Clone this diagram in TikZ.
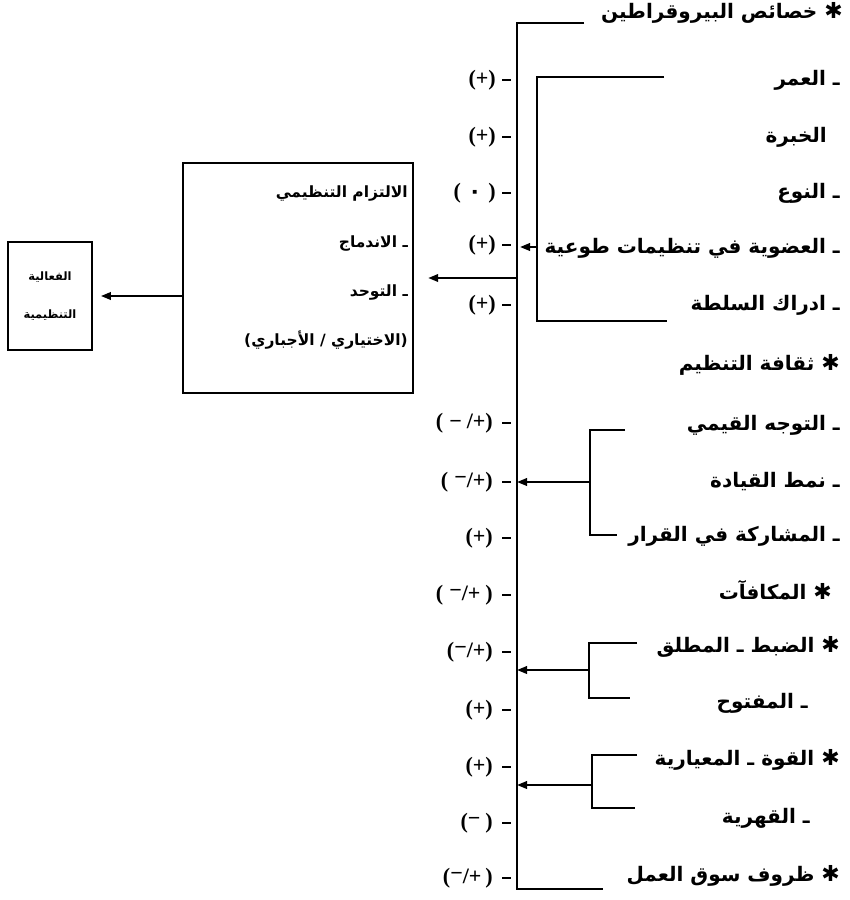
\documentclass[tikz,border=0pt]{standalone}
\usepackage{fontspec}
\setmainfont{Liberation Serif}
\newfontfamily\arabicfont[Script=Arabic]{DejaVu Sans}
\TeXXeTstate=1
\usetikzlibrary{arrows.meta}
\newcommand{\artext}[1]{\beginR #1\endR}
\newcommand{\hm}{\raisebox{3pt}{−}}
\newcommand{\bigstar}{{\fontsize{22}{22}\selectfont ✱}}
\tikzset{
  rt/.style={anchor=east, inner sep=0pt, font=\arabicfont\bfseries\fontsize{20}{22}\selectfont},
  bx/.style={anchor=east, inner sep=0pt, font=\arabicfont\bfseries\fontsize{15.5}{17}\selectfont},
  sm/.style={inner sep=0pt, font=\arabicfont\bfseries\fontsize{11.5}{13}\selectfont},
  lab/.style={anchor=east, inner sep=0pt, font=\bfseries\fontsize{22}{24}\selectfont},
  mainln/.style={line width=2.9pt},
  brln/.style={line width=2.2pt},
  tickln/.style={line width=2.6pt},
  arr/.style={line width=2.1pt, -{Triangle[length=10pt,width=7.5pt]}},
  boxln/.style={draw, line width=2.4pt}
}
\begin{document}
\begin{tikzpicture}[x=1pt,y=-1pt]
\useasboundingbox (0,0) rectangle (850,900);
% right-hand texts
\node[rt] (t0)  at (843,13)  {\artext{\bigstar{} خصائص البيروقراطين}};
\node[rt] (r1)  at (840,80)  {\artext{ـ العمر}};
\node[rt] (r2)  at (827,137) {\artext{الخبرة}};
\node[rt] (r3)  at (840,193) {\artext{ـ النوع}};
\node[rt] (r4)  at (840,248) {\artext{ـ العضوية في تنظيمات طوعية}};
\node[rt] (r5)  at (840,305) {\artext{ـ ادراك السلطة}};
\node[rt] (r6)  at (840,365) {\artext{\bigstar{} ثقافة التنظيم}};
\node[rt] (r7)  at (840,425) {\artext{ـ التوجه القيمي}};
\node[rt] (r8)  at (840,482) {\artext{ـ نمط القيادة}};
\node[rt] (r9)  at (840,536) {\artext{ـ المشاركة في القرار}};
\node[rt] (r10) at (832,590) {\artext{\bigstar{} المكافآت}};
\node[rt] (r11) at (840,647) {\artext{\bigstar{} الضبط ـ المطلق}};
\node[rt] (r12) at (808,703) {\artext{ـ المفتوح}};
\node[rt] (r13) at (840,760) {\artext{\bigstar{} القوة ـ المعيارية}};
\node[rt] (r14) at (810,818) {\artext{ـ القهرية}};
\node[rt] (r15) at (840,876) {\artext{\bigstar{} ظروف سوق العمل}};
% left labels
\node[lab] (l1)  at (496,80)  {(+)};
\node[lab] (l2)  at (496,137) {(+)};
\node[lab] (l3)  at (496,193) {(\hspace{7pt}{\arabicfont ٠}\hspace{7pt})};
\node[lab] (l4)  at (496,245) {(+)};
\node[lab] (l5)  at (496,305) {(+)};
\node[lab] (l6)  at (493,423) {(\hspace{6pt}−\hspace{5pt}/+)};
\node[lab] (l7)  at (493,482) {(\hspace{6pt}\hm/+)};
\node[lab] (l8)  at (493,538) {(+)};
\node[lab] (l9)  at (493,595) {(\hspace{6pt}\hm/+\hspace{5pt})};
\node[lab] (l10) at (493,652) {(\hm/+)};
\node[lab] (l11) at (493,710) {(+)};
\node[lab] (l12) at (493,767) {(+)};
\node[lab] (l13) at (493,823) {(\hm\hspace{5pt})};
\node[lab] (l14) at (493,878) {(\hm/+\hspace{4pt})};
% ticks
\foreach \y [count=\i] in {80,137,193,245,305,423,482,538,595,652,710,767,823,878}{
  \coordinate (k\i) at (502,\y);
  \draw[tickln] (k\i) -- ++(9,0);
}
% main line
\coordinate (mt) at (517,23);
\coordinate (mb) at (517,889);
\coordinate (tl) at (584,23);
\coordinate (bl) at (603,889);
\draw[mainln] (tl) -- (mt) -- (mb) -- (bl);
% inner bracket (top section)
\coordinate (ia) at (664,77);
\coordinate (ib) at (537,77);
\coordinate (ic) at (537,321);
\coordinate (id) at (667,321);
\draw[brln] (ia) -- (ib) -- (ic) -- (id);
\coordinate (ie) at (538,247);
\coordinate (if) at (520,247);
\draw[arr] (ie) -- (if);
% box
\node[boxln, minimum width=230pt, minimum height=230pt, inner sep=0pt] (box) at (298,278) {};
\node[bx] (b1) at (408,193) {\artext{الالتزام التنظيمي}};
\node[bx] (b2) at (408,243) {\artext{ـ الاندماج}};
\node[bx] (b3) at (408,292) {\artext{ـ التوحد}};
\node[bx] (b4) at (408,340) {\artext{(الاختياري / الأجباري)}};
\coordinate (ma) at (517,278);
\draw[arr] (ma) -- ([xshift=14pt]box.east |- ma);
% small box
\node[draw, line width=1.8pt, minimum width=84pt, minimum height=108pt, inner sep=0pt] (sbox) at (50,296) {};
\node[sm] (s1) at (50,277) {\artext{الفعالية}};
\node[sm] (s2) at (50,315) {\artext{التنظيمية}};
\draw[arr] (box.west |- sbox) -- ([xshift=8pt]sbox.east);
% bracket 2
\coordinate (c2a) at (625,430);
\coordinate (c2b) at (590,430);
\coordinate (c2c) at (590,535);
\coordinate (c2d) at (617,535);
\draw[brln] (c2a) -- (c2b) -- (c2c) -- (c2d);
\coordinate (c2m) at (590,482);
\draw[arr] (c2m) -- (mb |- c2m);
% bracket 3
\coordinate (c3a) at (637,643);
\coordinate (c3b) at (589,643);
\coordinate (c3c) at (589,698);
\coordinate (c3d) at (630,698);
\draw[brln] (c3a) -- (c3b) -- (c3c) -- (c3d);
\coordinate (c3m) at (589,670);
\draw[arr] (c3m) -- (mb |- c3m);
% bracket 4
\coordinate (c4a) at (637,755);
\coordinate (c4b) at (592,755);
\coordinate (c4c) at (592,808);
\coordinate (c4d) at (635,808);
\draw[brln] (c4a) -- (c4b) -- (c4c) -- (c4d);
\coordinate (c4m) at (592,785);
\draw[arr] (c4m) -- (mb |- c4m);
\end{tikzpicture}
\end{document}
